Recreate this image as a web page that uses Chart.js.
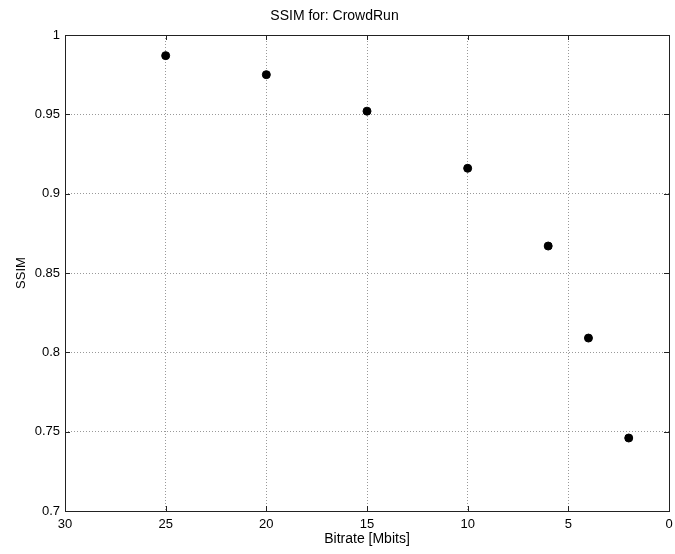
<!DOCTYPE html>
<html lang="en">
<head>
  <meta charset="UTF-8">
  <title>SSIM for: CrowdRun</title>
  <script src="https://cdn.jsdelivr.net/npm/chart.js"></script>
  <style>
    body { margin: 0; background: #fff; }
    canvas { display: block; }
  </style>
</head>
<body>
<canvas id="ssimChart" width="675" height="554"></canvas>

<script>
  // Measured SSIM per bitrate
  const bitrates = [25, 20, 15, 10, 6, 4, 2];
  const ssimValues = [0.987, 0.975, 0.952, 0.916, 0.867, 0.809, 0.746];

  const fontFamily = '"Liberation Sans", Arial, Helvetica, sans-serif';

  // Box around the plot plus inward tick marks on all four sides
  const boxPlugin = {
    id: 'boxPlugin',
    afterDraw(chart) {
      const { ctx, chartArea: a, scales } = chart;
      const len = 5;
      ctx.save();
      ctx.strokeStyle = '#222';
      ctx.lineWidth = 1;
      ctx.beginPath();
      scales.x.ticks.forEach(t => {
        const px = Math.round(scales.x.getPixelForValue(t.value)) + 0.5;
        ctx.moveTo(px, a.bottom); ctx.lineTo(px, a.bottom - len);
        ctx.moveTo(px, a.top); ctx.lineTo(px, a.top + len);
      });
      scales.y.ticks.forEach(t => {
        const py = Math.round(scales.y.getPixelForValue(t.value)) + 0.5;
        ctx.moveTo(a.left, py); ctx.lineTo(a.left + len, py);
        ctx.moveTo(a.right, py); ctx.lineTo(a.right - len, py);
      });
      ctx.stroke();
      ctx.strokeRect(Math.round(a.left) + 0.5, Math.round(a.top) + 0.5,
                     Math.round(a.right - a.left), Math.round(a.bottom - a.top));
      ctx.restore();
    }
  };

  const ctx = document.getElementById('ssimChart').getContext('2d');
  new Chart(ctx, {
    type: 'scatter',
    data: {
      datasets: [{
        label: 'SSIM',
        data: bitrates.map((b, i) => ({ x: b, y: ssimValues[i] })),
        backgroundColor: '#000',
        borderColor: '#000',
        pointRadius: 4,
        pointHoverRadius: 4
      }]
    },
    options: {
      responsive: false,
      animation: false,
      layout: { padding: { left: 0, right: 6, top: 0, bottom: 0 } },
      plugins: {
        legend: { display: false },
        tooltip: { enabled: false },
        title: {
          display: true,
          text: 'SSIM for: CrowdRun',
          color: '#000',
          font: { family: fontFamily, size: 14, weight: 'normal', lineHeight: 1.2 },
          padding: { top: 8, bottom: 10.2 }
        }
      },
      scales: {
        x: {
          type: 'linear',
          reverse: true,
          min: 0,
          max: 30,
          afterFit(scale) {
            scale.height = 43;
            // edge labels may hang over the box; don't shrink the plot for them
            scale.paddingLeft = 0;
            scale.paddingRight = 0;
          },
          ticks: {
            stepSize: 5,
            color: '#000',
            padding: 6,
            maxRotation: 0,
            font: { family: fontFamily, size: 13 }
          },
          grid: {
            color: '#999',
            drawTicks: false
          },
          border: { display: false, dash: [1, 2] },
          title: {
            display: true,
            text: 'Bitrate [Mbits]',
            color: '#000',
            font: { family: fontFamily, size: 14, lineHeight: 1.2 },
            padding: { top: 0, bottom: 6 }
          }
        },
        y: {
          type: 'linear',
          min: 0.7,
          max: 1,
          afterFit(scale) { scale.width = 65; },
          ticks: {
            stepSize: 0.05,
            color: '#000',
            padding: 5,
            font: { family: fontFamily, size: 13 },
            callback: v => String(+v.toFixed(2))
          },
          grid: {
            color: '#999',
            drawTicks: false
          },
          border: { display: false, dash: [1, 2] },
          title: {
            display: true,
            text: 'SSIM',
            color: '#000',
            font: { family: fontFamily, size: 13, lineHeight: 1.2 },
            padding: { top: 14, bottom: 0 }
          }
        }
      }
    },
    plugins: [boxPlugin]
  });
</script>
</body>
</html>
